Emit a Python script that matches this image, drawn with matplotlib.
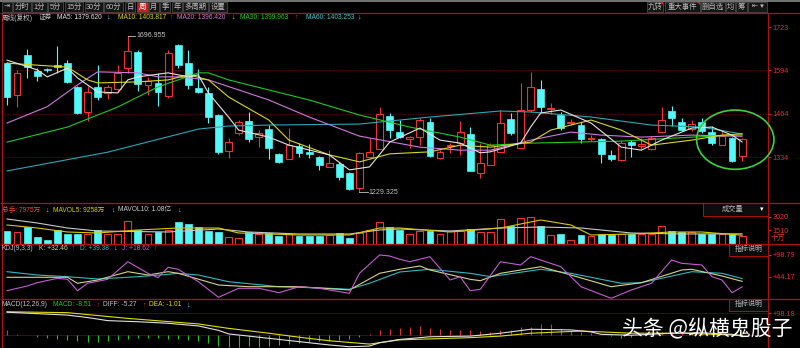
import matplotlib
matplotlib.use("Agg")
import matplotlib.pyplot as plt
from matplotlib.patches import Rectangle, Ellipse, Polygon
import numpy as np

plt.rcParams['font.family'] = ['Liberation Sans', 'Noto Sans CJK SC', 'DejaVu Sans']

# ----------------------------
# Datos (K线周线)
# ----------------------------
opens = [1616, 1520, 1639, 1592, 1597, 1609, 1616, 1544, 1469, 1544, 1526, 1538, 1600, 1648, 1550,
         1556, 1517, 1669, 1616, 1541, 1526, 1460, 1352, 1406, 1442, 1394, 1418, 1344, 1329, 1367,
         1350, 1335, 1305, 1314, 1287, 1242, 1335, 1359, 1457, 1409, 1388, 1394, 1439, 1332, 1367,
         1376, 1403, 1287, 1311, 1350, 1448, 1361, 1475, 1538, 1478, 1460, 1436, 1430, 1388, 1388,
         1341, 1326, 1379, 1367, 1358, 1409, 1472, 1439, 1418, 1439, 1409, 1370, 1391, 1338]
highs = [1619, 1595, 1657, 1600, 1601, 1666, 1624, 1547, 1547, 1609, 1550, 1609, 1696.955, 1654, 1574,
         1586, 1654, 1672, 1654, 1597, 1544, 1463, 1391, 1445, 1469, 1415, 1430, 1347, 1421, 1376,
         1373, 1338, 1355, 1320, 1290, 1350, 1391, 1484, 1466, 1445, 1397, 1451, 1451, 1355, 1376,
         1442, 1424, 1376, 1376, 1475, 1466, 1556, 1589, 1565, 1496, 1469, 1448, 1439, 1400, 1391,
         1355, 1385, 1385, 1391, 1397, 1484, 1487, 1451, 1445, 1451, 1427, 1412, 1394, 1391]
lows = [1490, 1484, 1571, 1562, 1589, 1586, 1556, 1463, 1442, 1505, 1508, 1529, 1586, 1532, 1520,
        1487, 1511, 1600, 1538, 1526, 1436, 1344, 1332, 1400, 1379, 1364, 1329, 1317, 1329, 1335,
        1332, 1296, 1305, 1266, 1236, 1229.325, 1329, 1359, 1391, 1391, 1361, 1370, 1335, 1329, 1346,
        1341, 1293, 1272, 1311, 1350, 1400, 1361, 1469, 1469, 1463, 1415, 1430, 1376, 1382, 1317,
        1323, 1323, 1335, 1355, 1355, 1406, 1427, 1412, 1412, 1406, 1370, 1370, 1320, 1323]
closes = [1515, 1586, 1603, 1576, 1594, 1603, 1559, 1466, 1529, 1514, 1544, 1586, 1651, 1553, 1562,
          1529, 1645, 1609, 1550, 1529, 1454, 1349, 1379, 1439, 1388, 1406, 1362, 1320, 1370, 1346,
          1344, 1311, 1317, 1275, 1239, 1347, 1350, 1463, 1415, 1394, 1394, 1445, 1338, 1350, 1370,
          1409, 1293, 1317, 1370, 1436, 1406, 1475, 1544, 1484, 1481, 1421, 1439, 1388, 1391, 1344,
          1329, 1376, 1370, 1373, 1391, 1445, 1451, 1415, 1433, 1412, 1376, 1397, 1323, 1388]
# 成交量 (十万)
volume = [1432, 1253, 1813, 761, 392, 1477, 1029, 1029, 1029, 1477, 1029, 1029, 2551, 1477, 1097,
          1320, 1511, 2439, 2148, 1813, 1399, 1253, 761, 582, 1253, 1029, 1141, 873, 1029, 873,
          873, 873, 951, 1141, 582, 1141, 1511, 2439, 1813, 1511, 1029, 1399, 1399, 1029, 1399,
          1399, 1589, 1320, 1320, 2708, 1992, 2887, 2999, 1992, 951, 1063, 392, 951, 873, 1029,
          951, 1029, 1029, 1029, 1029, 1958, 1432, 1253, 1253, 1029, 1029, 1097, 1029, 798]

ma5_idx = [0, 3, 4, 6, 7, 9, 11, 12, 13, 16, 18, 19, 20, 22, 23, 26, 28, 32, 34, 36, 38, 41, 43, 45,
           47, 48, 51, 52, 53, 55, 58, 61, 63, 65, 68, 70, 72, 73]
ma5_val = [1624, 1595, 1574, 1600, 1571, 1529, 1526, 1565, 1574, 1586, 1574, 1580, 1526, 1454, 1415,
           1394, 1370, 1341, 1296, 1305, 1379, 1421, 1385, 1376, 1347, 1350, 1376, 1424, 1466, 1475,
           1436, 1364, 1355, 1385, 1421, 1424, 1400, 1379.62]
ma10_idx = [0, 3, 6, 8, 9, 13, 16, 18, 20, 22, 26, 28, 32, 35, 38, 42, 45, 48, 52, 54, 58, 61, 64,
            68, 71, 73]
ma10_val = [1615, 1609, 1603, 1565, 1556, 1559, 1565, 1580, 1565, 1514, 1445, 1385, 1341, 1320, 1344,
            1350, 1370, 1364, 1379, 1415, 1445, 1415, 1370, 1385, 1400, 1403.82]
ma20_idx = [0, 4, 7, 9, 13, 15, 17, 20, 26, 30, 35, 41, 45, 48, 52, 56, 59, 63, 68, 73]
ma20_val = [1436, 1485, 1550, 1589, 1586, 1574, 1574, 1565, 1505, 1454, 1397, 1364, 1355, 1355, 1385,
            1409, 1400, 1394, 1400, 1396.42]
ma30_idx = [0, 6, 11, 15, 19, 20, 22, 26, 30, 35, 40, 45, 48, 52, 61, 68, 73]
ma30_val = [1379, 1424, 1484, 1544, 1586, 1586, 1565, 1535, 1505, 1460, 1424, 1394, 1370, 1376, 1382,
            1394, 1399.96]
ma60_idx = [0, 10, 19, 22, 26, 35, 42, 49, 52, 58, 64, 69, 73]
ma60_val = [1293, 1349, 1418, 1427, 1430, 1433, 1454, 1472, 1469, 1454, 1430, 1424, 1403.25]

mavol5_idx = [0, 3, 6, 9, 13, 17, 21, 23, 29, 34, 37, 39, 44, 49, 53, 56, 58, 62, 66, 69, 73]
mavol5_val = [2070, 1734, 1287, 1175, 1511, 1734, 1734, 1175, 951, 951, 1734, 1734, 1287, 1734, 2630,
              2070, 951, 1063, 1287, 1287, 926]
mavol10_idx = [0, 3, 6, 9, 16, 21, 24, 29, 34, 37, 39, 44, 49, 53, 57, 62, 67, 73]
mavol10_val = [2742, 2294, 1734, 1399, 1287, 1623, 1287, 1063, 1063, 1511, 1623, 1399, 1734, 1846,
               1734, 1175, 1063, 1080]

k_idx = [0, 4, 6, 7, 9, 12, 14, 16, 17, 21, 24, 29, 34, 37, 39, 41, 42, 46, 47, 49, 53, 56, 60, 63,
         67, 68, 71, 73]
k_val = [42.7, 42.7, 42.7, 27.6, 35.9, 56.8, 48.4, 56.8, 52.7, 23.3, 19, 19, 10.7, 52.7, 62.8, 71.1,
         61, 37.6, 34.1, 52.7, 69.3, 48.4, 19, 29.1, 61, 62.8, 46, 32.46]
d_idx = [0, 3, 6, 9, 13, 16, 17, 19, 22, 27, 32, 34, 36, 39, 42, 46, 48, 53, 56, 61, 63, 68, 71, 73]
d_val = [56.8, 48.4, 44.2, 38.4, 44.2, 50.2, 52.7, 48.4, 31.6, 19, 15, 12.5, 27.6, 56, 62.8, 52.7,
         44.2, 62.8, 52.7, 27.6, 29.1, 56.8, 52.7, 39.38]
j_idx = [0, 2, 3, 5, 6, 7, 8, 10, 12, 14, 15, 16, 17, 19, 21, 23, 25, 27, 29, 31, 34, 35, 37, 38, 39,
         40, 42, 44, 45, 46, 47, 49, 51, 52, 55, 57, 60, 62, 64, 66, 67, 69, 70, 71, 72, 73]
j_val = [8.9, 20.8, 29.1, 40.1, 37.6, 8.9, 27.6, 37.6, 81.9, 52.7, 41.7, 67.8, 62.8, 31.6, -7.7, 15,
         15, 3.9, 19, 15, 2.4, 52.7, 98.8, 96.3, 88, 81.9, 94.5, 35.9, 44.2, 8.9, 12.5, 81.9, 73.6,
         94.5, 69.3, 19, -10.2, 10.7, 27.6, 86.2, 77.9, 73.6, 44.2, 35.9, 3.9, 18.62]

diff_idx = [0, 6, 8, 10, 13, 16, 19, 21, 22, 26, 29, 32, 34, 36, 37, 39, 42, 46, 49, 52, 56, 58, 59,
            62, 66, 69, 72, 73]
diff_val = [103, 90, 79, 65, 60, 53, 41, 21, 5, -15, -30, -45, -53, -50, -35, -20, -8, -5, 8, 26, 23,
            14, 3, -1, 8, 10, 3, -5.27]
dea_idx = [0, 6, 12, 19, 22, 26, 29, 32, 36, 39, 46, 49, 52, 57, 62, 67, 73]
dea_val = [105, 101, 75, 50, 30, 8, -10, -26, -41, -22, -12, -5, 8, 18, 8, 8, -1.01]
macd_bar = [22, 4, -2, -9, -14, -18, -23, -27, -32, -32, -27, -23, -18, -14, -14, -14, -18, -18, -23,
            -27, -36, -50, -54, -54, -50, -54, -50, -45, -41, -36, -32, -27, -27, -23, -18, -9, 4,
            22, 27, 30, 38, 41, 30, 26, 23, 23, 23, 20, 14, 23, 23, 35, 38, 50, 50, 26, 20, 15, 9,
            0, -5, -15, -9, -5, 5, 12, 14, 9, 9, 9, 5, 0, -5, -8.51]

price_ticks = [1723, 1594, 1464, 1334]

# ----------------------------
# Colores
# ----------------------------
UP = '#f03232'
DOWN = '#54f8f8'
SEP = '#b01010'
GRID = '#5a0a0a'
LBL = '#e83030'
GRAY = '#c4c4c4'
C_MA5, C_MA10, C_MA20, C_MA30, C_MA60 = '#e4e4e4', '#d8d820', '#d078dc', '#22c822', '#2aa8b4'
C_K, C_D, C_J = '#d4d48c', '#30b8c0', '#c45cd4'

W, H = 800, 348
fig = plt.figure(figsize=(W / 100, H / 100), dpi=100, facecolor='black')

XL = ((2 - 7) / 10.07, (768 - 7) / 10.07)


def panel(y0, y1, ylim):
    ax = fig.add_axes([2 / W, 1 - y1 / H, 766 / W, (y1 - y0) / H])
    ax.set_facecolor('black')
    ax.set_xlim(XL)
    ax.set_ylim(ylim)
    for s in ('top', 'bottom'):
        ax.spines[s].set_visible(False)
    for s in ('left', 'right'):
        ax.spines[s].set_color(SEP)
        ax.spines[s].set_linewidth(0.9)
    ax.set_xticks([])
    ax.yaxis.tick_right()
    ax.tick_params(axis='y', length=2, width=0.6, color=LBL, labelcolor=LBL,
                   labelsize=5.2, pad=1.5)
    return ax


idx = np.arange(len(opens))
o, h, l, c = map(np.array, (opens, highs, lows, closes))
up = c >= o

# ---- precio ----
ax = panel(13.5, 203, (1723 - 2.988 * 176, 1723 + 2.988 * 13.5))
ax.set_yticks(price_ticks)
ax.set_yticklabels([str(t) for t in price_ticks])
for t in price_ticks[1:]:
    ax.axhline(t, color=GRID, lw=0.6, ls=(0, (2, 1)), zorder=0)
ax.vlines(idx, l, h, colors=np.where(up, UP, DOWN), lw=0.8, zorder=2)
body_lo = np.minimum(o, c)
body_h = np.maximum(np.abs(c - o), 1.5)
ax.bar(idx[up], body_h[up], bottom=body_lo[up], width=0.68, facecolor='black',
       edgecolor=UP, lw=0.8, zorder=3)
ax.bar(idx[~up], body_h[~up], bottom=body_lo[~up], width=0.68, facecolor=DOWN,
       edgecolor=DOWN, lw=0.5, zorder=3)
for xs, ys, col in [(ma60_idx, ma60_val, C_MA60), (ma30_idx, ma30_val, C_MA30),
                    (ma20_idx, ma20_val, C_MA20), (ma10_idx, ma10_val, C_MA10),
                    (ma5_idx, ma5_val, C_MA5)]:
    ax.plot(xs, ys, color=col, lw=0.8, zorder=4)
# máximo / mínimo
hi_i, lo_i = int(np.argmax(h)), int(np.argmin(l))
ax.plot([hi_i, hi_i + 0.75], [h[hi_i]] * 2, color=GRAY, lw=0.6, zorder=5)
ax.text(hi_i + 0.82, h[hi_i], f'{h[hi_i]:.3f}', color=GRAY, fontsize=5, va='center')
ax.plot([lo_i, lo_i + 0.8], [l[lo_i]] * 2, color=GRAY, lw=0.6, zorder=5)
ax.text(lo_i + 0.87, l[lo_i], f'{l[lo_i]:.3f}', color=GRAY, fontsize=5, va='center')
ax.add_patch(Ellipse((72.32, 1386.3), 7.68, 177, fill=False, ec='#3cd23c', lw=1.2,
                     clip_on=False, zorder=6))

# ---- volumen ----
vax = panel(203, 243.5, (0, 40.5 * 111.9))
vax.set_yticks([1510, 3020])
vax.set_yticklabels(['1510', '3020'])
v = np.array(volume)
vax.bar(idx[up], v[up], width=0.68, facecolor='black', edgecolor=UP, lw=0.8)
vax.bar(idx[~up], v[~up], width=0.68, facecolor=DOWN, edgecolor=DOWN, lw=0.5)
vax.plot(mavol10_idx, mavol10_val, color='#c8c8c8', lw=0.8)
vax.plot(mavol5_idx, mavol5_val, color='#d8c800', lw=0.8)

# ---- KDJ ----
kax = panel(243.5, 298.5, (44.17 - 21.8 * 2.517, 44.17 + 33.2 * 2.517))
kax.set_yticks([44.17, 98.79])
kax.set_yticklabels(['+44.17', '+98.79'])
kax.plot(d_idx, d_val, color=C_D, lw=0.8)
kax.plot(k_idx, k_val, color=C_K, lw=0.8)
kax.plot(j_idx, j_val, color=C_J, lw=0.8)

# ---- MACD ----
max_ = panel(298.5, 348, (-13 * 4.52, 36.5 * 4.52))
max_.set_yticks([98.18])
max_.set_yticklabels(['+98.18'])
max_.axhline(98.18, color=GRID, lw=0.6)
max_.axhline(0, color=GRID, lw=0.6)
mb = np.array(macd_bar)
max_.vlines(idx, 0, mb, colors=np.where(mb >= 0, '#e03030', '#20c020'), lw=0.8)
max_.plot(dea_idx, dea_val, color='#e0e000', lw=0.8)
max_.plot(diff_idx, diff_val, color='#e0e0e0', lw=0.8)

# ---- capa de interfaz ----
ov = fig.add_axes([0, 0, 1, 1], zorder=10)
ov.set_xlim(0, W)
ov.set_ylim(H, 0)
ov.axis('off')
ov.patch.set_visible(False)

ov.hlines(0.6, 0, W, color='#8a8a8a', lw=1.2)
ov.hlines([13, 203, 243.5, 298.5], 0, W, color=SEP, lw=0.9)

tool_left = [('⇥', 2, 12), ('分时', 13, 31), ('1分', 32, 47), ('5分', 48, 63), ('15分', 65, 83),
             ('30分', 85, 103), ('60分', 104, 123), ('日', 125, 135), ('周', 137, 148),
             ('月', 149, 159), ('季', 160, 170), ('年', 172, 182), ('多周期', 183, 208),
             ('设置', 209, 227)]
tool_right = [('九转', 647, 663), ('重大事件', 665, 700), ('删自选', 701, 725), ('均', 726, 735),
              ('筹', 736, 747), ('⇤ ▾', 748, 767)]
for lab, x0, x1 in tool_left + tool_right:
    sel = lab == '周'
    ov.add_patch(Rectangle((x0, 1.8), x1 - x0, 10, fc='#c81e1e' if sel else '#151515',
                           ec='#4a4a4a', lw=0.6))
    ov.text((x0 + x1) / 2, 7, lab, ha='center', va='center', fontsize=5.3,
            color='white' if sel else '#bdbdbd')
for x1 in (663, 700):
    ov.add_patch(Polygon([(x1 - 3.5, 1.8), (x1, 1.8), (x1, 5.3)], closed=True, fc='#e02020'))

# (texto, x, color); las flechas van centradas en su x
legend = [('周线(复权)', 2, GRAY), ('证券', 39, GRAY), ('MA5: 1379.620', 57, C_MA5), ('↓', 107.5, DOWN),
          ('MA10: 1403.817', 118, C_MA10), ('↑', 170.5, UP), ('MA20: 1396.420', 177, C_MA20),
          ('↓', 233, DOWN), ('MA30: 1399.963', 240, C_MA30), ('↑', 296, UP),
          ('MA60: 1403.253', 306, '#40c8d0'), ('↓', 359, DOWN)]
vol_legend = [('总手: 7975万', 2, '#ff4040'), ('↓', 47, DOWN), ('MAVOL5: 9258万', 53, '#d8d000'),
              ('↓', 112.5, DOWN), ('MAVOL10: 1.08亿', 118, '#d0d0d0'), ('↓', 179, DOWN)]
kdj_legend = [('KDJ(9,3,3)', 2, GRAY), ('K: +32.46', 39, C_K), ('↑', 72.5, UP),
              ('D: +39.38', 80, C_D), ('↓', 115, DOWN), ('J: +18.62', 122, C_J), ('↑', 155, UP)]
macd_legend = [('MACD(12,26,9)', 2, GRAY), ('MACD: -8.51', 53, '#10d010'), ('↑', 97.5, UP),
               ('DIFF: -5.27', 103, GRAY), ('↑', 143.5, UP), ('DEA: -1.01', 149, '#e0e000'),
               ('↓', 188, DOWN)]
for items, yy in [(legend, 17.5), (vol_legend, 210), (kdj_legend, 248.5), (macd_legend, 305)]:
    for s, x, col in items:
        arrow = s in ('↑', '↓')
        ov.text(x, yy, s, fontsize=5 if arrow else 4.8, color=col, va='center',
                ha='center' if arrow else 'left')

ov.add_patch(Rectangle((703, 203), 65, 13, fc='#0c0c0c', ec=SEP, lw=0.7))
ov.text(733, 209.5, '成交量', fontsize=5.2, color='#b8b8b8', ha='center', va='center')
ov.text(762, 209.5, '▾', fontsize=5, color='white', ha='center', va='center')
ov.text(771, 238, '十万', fontsize=5.2, color=LBL, ha='left', va='center')
for y0 in (243.5, 298.5):
    ov.add_patch(Rectangle((729, y0), 39, 12, fc='#0c0c0c', ec=SEP, lw=0.7))
    ov.text(748.5, y0 + 6, '指标说明', fontsize=5, color='#b8b8b8', ha='center', va='center')

ov.text(622, 329, '头条 @纵横鬼股子', fontsize=15, color='white', va='center', ha='left',
        family=['Noto Sans CJK SC', 'DejaVu Sans'])

fig.savefig('out.png', dpi=100, facecolor='black')
